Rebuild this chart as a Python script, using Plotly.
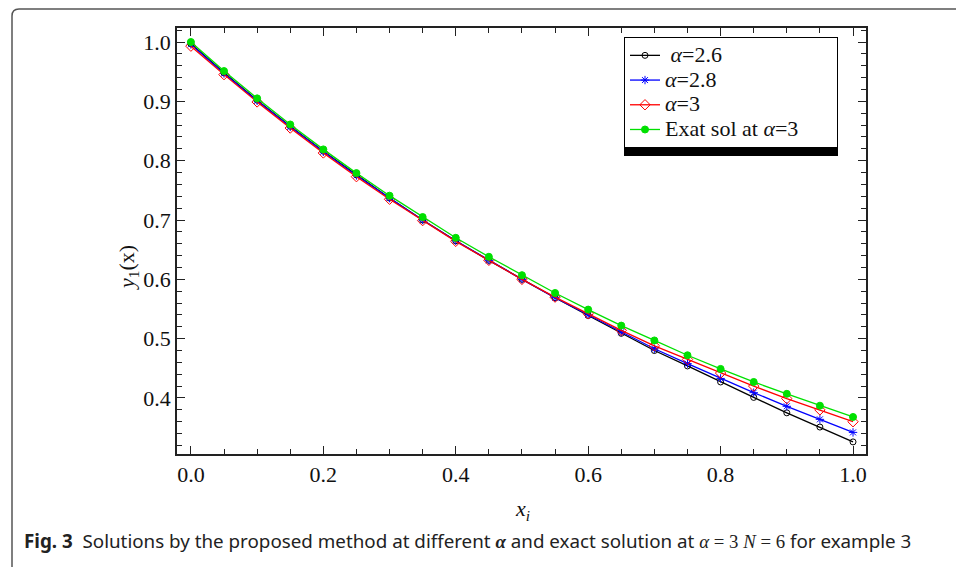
import plotly.graph_objects as go

# Nodes x_i and computed y1 values
x_nodes = [0.00, 0.05, 0.10, 0.15, 0.20, 0.25, 0.30, 0.35, 0.40, 0.45, 0.50,
           0.55, 0.60, 0.65, 0.70, 0.75, 0.80, 0.85, 0.90, 0.95, 1.00]
y_alpha_26 = [0.997, 0.948, 0.902, 0.858, 0.816, 0.776, 0.737, 0.700, 0.665, 0.632, 0.600,
              0.569, 0.539, 0.509, 0.480, 0.454, 0.427, 0.401, 0.375, 0.351, 0.326]
y_alpha_28 = [0.996, 0.947, 0.901, 0.857, 0.815, 0.775, 0.737, 0.700, 0.665, 0.632, 0.600,
              0.569, 0.540, 0.511, 0.483, 0.458, 0.433, 0.409, 0.386, 0.364, 0.342]
y_alpha_3 = [0.993, 0.945, 0.899, 0.855, 0.813, 0.773, 0.735, 0.699, 0.664, 0.632, 0.600,
             0.570, 0.542, 0.514, 0.488, 0.465, 0.442, 0.420, 0.399, 0.380, 0.360]
y_exact = [1.000, 0.951, 0.905, 0.861, 0.819, 0.779, 0.741, 0.705, 0.670, 0.638, 0.607,
           0.577, 0.549, 0.522, 0.497, 0.472, 0.449, 0.427, 0.407, 0.387, 0.368]

x_ticks = [0.0, 0.2, 0.4, 0.6, 0.8, 1.0]
x_tick_text = ["0.0", "0.2", "0.4", "0.6", "0.8", "1.0"]
y_ticks = [0.4, 0.5, 0.6, 0.7, 0.8, 0.9, 1.0]
y_tick_text = ["0.4", "0.5", "0.6", "0.7", "0.8", "0.9", "1.0"]

SERIF = "Liberation Serif, Times New Roman, serif"
W, H = 956, 567
L, R, T, B = 177, 866, 28, 454  # plot-area edges in pixels


def px(xp):
    return (xp - L) / (R - L)


def py(yp):
    return (B - yp) / (B - T)


def big(s):
    # legend rows stay compact while the label text is drawn larger
    return f"<span style='font-size:22px'>{s}</span>"


series = [
    (big("&nbsp;<i>α</i>=2.6"), y_alpha_26, "black", "circle-open", 6),
    (big("<i>α</i>=2.8"), y_alpha_28, "blue", "asterisk-open", 7),
    (big("<i>α</i>=3"), y_alpha_3, "red", "diamond-open", 8),
    (big("Exat sol at <i>α</i>=3" + "&nbsp;" * 6), y_exact, "#00e000", "circle", 7),
]

fig = go.Figure()
for name, ys, col, sym, size in series:
    fig.add_trace(go.Scatter(
        x=x_nodes, y=ys, name=name, mode="lines+markers",
        line=dict(color=col, width=1.3),
        marker=dict(symbol=sym, size=size, color=col, line=dict(color=col, width=1)),
    ))

axis_common = dict(
    showgrid=False, zeroline=False, showline=True, linecolor="#222", linewidth=1.5,
    mirror="allticks", ticks="inside", ticklen=8, tickwidth=1.2, tickcolor="#222",
    tickfont=dict(family=SERIF, size=22, color="#111"),
)

fig.update_xaxes(
    range=[-0.021, 1.0196], tickmode="array", tickvals=x_ticks, ticktext=x_tick_text,
    minor=dict(ticks="inside", ticklen=5, tickwidth=1, tickcolor="#222", dtick=0.05, tick0=0),
    **axis_common,
)
fig.update_yaxes(
    range=[0.3056, 1.0236], tickmode="array", tickvals=y_ticks, ticktext=y_tick_text,
    minor=dict(ticks="inside", ticklen=5, tickwidth=1, tickcolor="#222", dtick=0.02, tick0=0),
    **axis_common,
)

# Legend shadow bar
fig.add_shape(type="rect", xref="paper", yref="paper",
              x0=px(624), x1=px(838), y0=py(156), y1=py(146.5),
              fillcolor="black", line=dict(width=0), layer="above")

# Outer rounded frame
r = 7
frame_path = (f"M {px(12)},{py(570)} L {px(12)},{py(9 + r)} "
              f"Q {px(12)},{py(9)} {px(12 + r)},{py(9)} L {px(960)},{py(9)}")
fig.add_shape(type="path", xref="paper", yref="paper", path=frame_path,
              line=dict(color="#555", width=1.5))

fig.add_annotation(xref="paper", yref="paper", x=px(128), y=py(268),
                   xanchor="center", yanchor="middle",
                   text="<i>y</i><sub>1</sub>(x)", textangle=-90, showarrow=False,
                   font=dict(family=SERIF, size=22, color="#111"))
fig.add_annotation(xref="paper", yref="paper", x=px(522), y=py(510),
                   xanchor="center", yanchor="middle",
                   text="<i>x<sub>i</sub></i>", showarrow=False,
                   font=dict(family=SERIF, size=22, color="#111"))

caption = ("<b>Fig. 3</b>  Solutions by the proposed method at different "
           f"<span style='font-family:{SERIF}'><b><i>α</i></b></span> and exact solution at "
           f"<span style='font-family:{SERIF}'><i>α</i> = 3 <i>N</i> = 6</span> for example 3")
fig.add_annotation(xref="paper", yref="paper", x=px(22), y=py(541), xanchor="left",
                   yanchor="middle", text=caption, showarrow=False,
                   font=dict(family="Noto Sans, Open Sans, sans-serif", size=18.8, color="#222"))

fig.update_layout(
    width=W, height=H,
    margin=dict(l=L, r=W - R, t=T, b=H - B),
    paper_bgcolor="white", plot_bgcolor="white",
    showlegend=True,
    legend=dict(x=px(624), y=py(37), xanchor="left", yanchor="top",
                bgcolor="white", bordercolor="black", borderwidth=1,
                font=dict(family=SERIF, size=16.7, color="#111"),
                itemwidth=30, tracegroupgap=0),
)

fig.write_html("out.html")
